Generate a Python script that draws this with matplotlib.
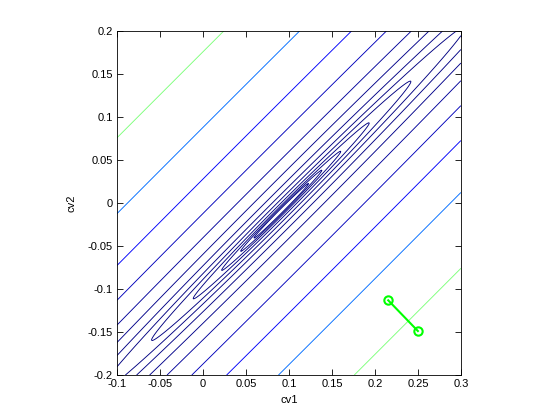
import matplotlib
matplotlib.use("Agg")
import matplotlib.pyplot as plt
import numpy as np

plt.rcParams['font.family'] = ['Liberation Sans', 'DejaVu Sans']

# valley of the surface (cv2 - cv1 = -0.1 along its axis)
cv1_center = 0.091
cv2_center = -0.009
aspect = 22.0   # length / width of the closed contours

# contour half-widths across the valley (in cv2-cv1 units), outermost first
half_widths = [0.276, 0.188, 0.128, 0.088, 0.060, 0.041, 0.028,
               0.0195, 0.0137, 0.0093, 0.0063, 0.0043, 0.0029]

# green segment
seg_cv1 = [0.2155, 0.2500]
seg_cv2 = [-0.1131, -0.1488]

x = np.linspace(-0.1, 0.3, 700)
y = np.linspace(-0.2, 0.2, 700)
X, Y = np.meshgrid(x, y)
U = (Y - X) - (cv2_center - cv1_center)
V = (Y + X) - (cv2_center + cv1_center)
Z = U**2 + (V / aspect)**2

levels = sorted(w**2 for w in half_widths)

fig = plt.figure(figsize=(5.6, 4.2), dpi=100)
ax = fig.add_axes([0.209, 0.107, 0.614, 0.819])
norm = matplotlib.colors.Normalize(vmin=0, vmax=2 * half_widths[0]**2)
ax.contour(X, Y, Z, levels=levels, cmap='jet', norm=norm, linewidths=0.65)

ax.plot(seg_cv1, seg_cv2, '-o', color=(0, 1, 0), lw=1.5,
        markerfacecolor='none', markeredgewidth=1.5, markersize=6)

ax.set_xlim(-0.1, 0.3)
ax.set_ylim(-0.2, 0.2)
ax.set_xticks(np.arange(-0.1, 0.3001, 0.05))
ax.set_yticks(np.arange(-0.2, 0.2001, 0.05))
ax.set_xticklabels(['-0.1', '-0.05', '0', '0.05', '0.1', '0.15', '0.2', '0.25', '0.3'])
ax.set_yticklabels(['-0.2', '-0.15', '-0.1', '-0.05', '0', '0.05', '0.1', '0.15', '0.2'])
ax.tick_params(direction='in', top=True, right=True, length=4, width=0.6,
               labelsize=8, pad=3)
for s in ax.spines.values():
    s.set_linewidth(0.6)
ax.set_xlabel('cv1', fontsize=8, labelpad=4)
ax.set_ylabel('cv2', fontsize=8, labelpad=8)

fig.savefig('out.png', dpi=100)
